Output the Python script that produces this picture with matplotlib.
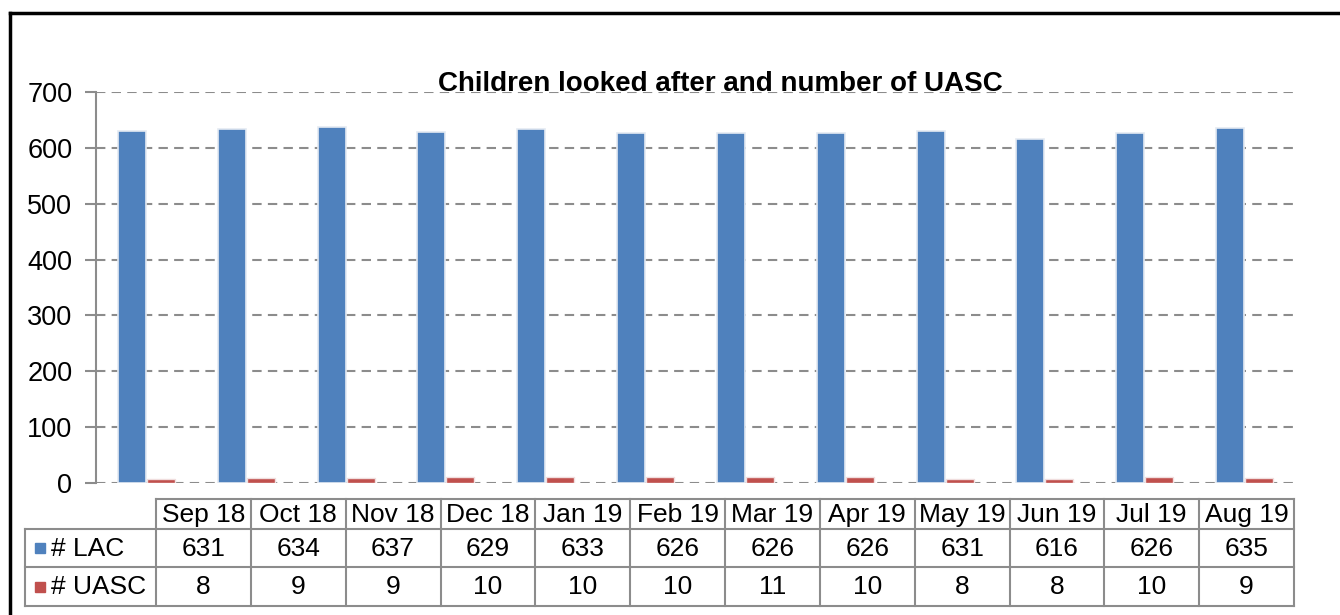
import matplotlib.pyplot as plt
from matplotlib.lines import Line2D
from matplotlib.patches import Rectangle

months = ['Sep 18', 'Oct 18', 'Nov 18', 'Dec 18', 'Jan 19', 'Feb 19',
          'Mar 19', 'Apr 19', 'May 19', 'Jun 19', 'Jul 19', 'Aug 19']
lac = [631, 634, 637, 629, 633, 626, 626, 626, 631, 616, 626, 635]
uasc = [8, 9, 9, 10, 10, 10, 11, 10, 8, 8, 10, 9]
series_names = ['# LAC', '# UASC']
colors = ['#4F81BD', '#C0504D']
title = 'Children looked after and number of UASC'

plt.rcParams['font.family'] = ['Liberation Sans', 'DejaVu Sans']

W, H = 1340, 615
fig = plt.figure(figsize=(W / 100, H / 100), dpi=100)


def fx(px):
    return px / W


def fy(py):
    return 1 - py / H


# outer frame (left and top edges visible)
fig.add_artist(Line2D([fx(10), fx(10)], [fy(13), 0], color='black', lw=2.5))
fig.add_artist(Line2D([fx(10), 1], [fy(13), fy(13)], color='black', lw=2.5))

ax = fig.add_axes([fx(96), fy(483), fx(1294) - fx(96), fy(92) - fy(483)])
x = list(range(len(months)))
ax.bar([i - 0.14 for i in x], lac, width=0.28, color=colors[0],
       edgecolor='#e4eaf2', linewidth=1.2, zorder=3)
ax.bar([i + 0.15 for i in x], uasc, width=0.28, color=colors[1],
       edgecolor='#f0dede', linewidth=1.0, zorder=3)

ax.set_xlim(-0.5, len(months) - 0.5)
ax.set_ylim(0, 700)
ax.set_yticks(range(0, 701, 100))
ax.set_xticks([])
ax.yaxis.grid(True, color='#8c8c8c', linestyle=(0, (4.5, 3)), linewidth=1.5)
ax.set_axisbelow(True)
for s in ['top', 'right', 'bottom']:
    ax.spines[s].set_visible(False)
ax.spines['left'].set_color('#8c8c8c')
ax.spines['left'].set_linewidth(1.5)
ax.tick_params(axis='y', length=8, width=1.5, color='#8c8c8c',
               labelsize=19.5, pad=9)
ax.patch.set_alpha(0)

fig.text(fx(720), fy(84), title, ha='center', va='center',
         fontsize=20, fontweight='bold')

# data table below the chart
lc = '#8c8c8c'
lw = 1.5
col0, col1 = 25, 156
cw = (1294 - col1) / len(months)
rows = [499, 529, 567, 606]

tab = fig.add_axes([0, 0, 1, 1])
tab.set_xlim(0, W)
tab.set_ylim(H, 0)
tab.axis('off')
tab.patch.set_alpha(0)

# horizontal lines
tab.plot([col1, 1294], [rows[0], rows[0]], color=lc, lw=lw)
for r in rows[1:]:
    tab.plot([col0, 1294], [r, r], color=lc, lw=lw)
# vertical lines
tab.plot([col0, col0], [rows[1], rows[3]], color=lc, lw=lw)
for j in range(len(months) + 1):
    xx = col1 + j * cw
    tab.plot([xx, xx], [rows[0], rows[3]], color=lc, lw=lw)

fs = 19
for j, m in enumerate(months):
    cx = col1 + (j + 0.5) * cw
    tab.text(cx, (rows[0] + rows[1]) / 2 + 1, m, ha='center', va='center', fontsize=fs)
    tab.text(cx, (rows[1] + rows[2]) / 2 + 1, str(lac[j]), ha='center', va='center', fontsize=fs)
    tab.text(cx, (rows[2] + rows[3]) / 2 + 1, str(uasc[j]), ha='center', va='center', fontsize=fs)

for k, (name, c) in enumerate(zip(series_names, colors)):
    yc = (rows[k + 1] + rows[k + 2]) / 2
    tab.add_patch(Rectangle((35, yc - 5), 10, 10, color=c))
    tab.text(51, yc + 1, name, ha='left', va='center', fontsize=fs)

fig.savefig('out.png', dpi=100)
